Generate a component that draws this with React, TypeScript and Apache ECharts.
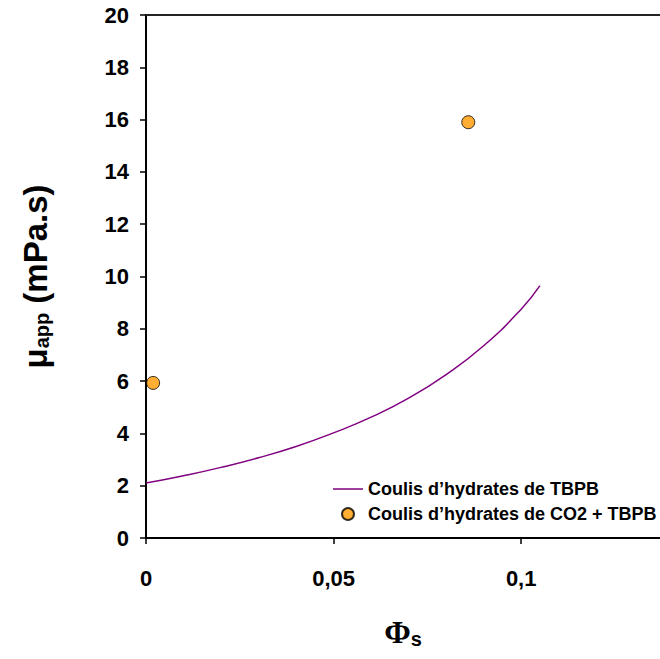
import React, { useEffect, useRef } from "react";
import * as echarts from "echarts";

const seriesNames = ["Coulis d’hydrates de TBPB", "Coulis d’hydrates de CO2 + TBPB"];
const lineX = [0, 0.01, 0.02, 0.03, 0.04, 0.05, 0.06, 0.07, 0.08, 0.09, 0.1, 0.105];
const lineY = [2.1, 2.38, 2.7, 3.07, 3.5, 4.02, 4.62, 5.35, 6.25, 7.35, 8.75, 9.65];
const pointsX = [0.0019, 0.0859];
const pointsY = [5.93, 15.9];
const xMin = 0;
const xMax = 0.137;
const xStep = 0.05;
const yMin = 0;
const yMax = 20;
const yStep = 2;

const FONT = "'Liberation Sans', Arial, sans-serif";
const SERIF = "'Liberation Serif', 'Times New Roman', serif";

export default function App() {
  const ref = useRef<HTMLDivElement>(null);
  useEffect(() => {
    document.body.style.margin = "0";
    if (!ref.current) return;
    const chart = echarts.init(ref.current, undefined, { renderer: "svg" });
    chart.setOption({
      animation: false,
      backgroundColor: "#fff",
      grid: { left: 146, top: 15, right: 0, bottom: 121, containLabel: false, outerBoundsMode: "none" },
      legend: {
        orient: "vertical",
        left: 328,
        top: 475,
        itemWidth: 30,
        itemHeight: 12,
        itemGap: 7,
        textStyle: { fontFamily: FONT, fontWeight: "bold", fontSize: 18, color: "#000" },
        data: [
          { name: seriesNames[0], icon: "path://M0,0H20V1H0Z" },
          { name: seriesNames[1] },
        ],
      },
      xAxis: [
        {
          type: "value",
          min: xMin,
          max: xMax,
          interval: xStep,
          position: "bottom",
          axisLine: { show: true, lineStyle: { color: "#000", width: 2 } },
          axisTick: { show: true, length: 6, lineStyle: { color: "#000", width: 1.5 } },
          splitLine: { show: false },
          axisLabel: {
            margin: 29,
            showMaxLabel: false,
            fontFamily: FONT,
            fontWeight: "bold",
            fontSize: 22,
            color: "#000",
            formatter: (v: number) => String(v).replace(".", ","),
          },
          name: "{phi|Φ}{sub|s}",
          nameLocation: "middle",
          nameGap: 76,
          nameTextStyle: {
            rich: {
              phi: { fontFamily: SERIF, fontWeight: "bold", fontSize: 32, color: "#000", lineHeight: 36 },
              sub: { fontFamily: FONT, fontWeight: "bold", fontSize: 20, color: "#000", padding: [14, 0, 0, 0], lineHeight: 36 },
            },
          },
        },
        {
          type: "value",
          min: xMin,
          max: xMax,
          position: "top",
          axisLine: { show: true, lineStyle: { color: "#222", width: 2 } },
          axisTick: { show: false },
          axisLabel: { show: false },
          splitLine: { show: false },
        },
      ],
      yAxis: {
        type: "value",
        min: yMin,
        max: yMax,
        interval: yStep,
        axisLine: { show: true, lineStyle: { color: "#000", width: 2 } },
        axisTick: { show: true, length: 6, lineStyle: { color: "#000", width: 1.5 } },
        splitLine: { show: false },
        axisLabel: { margin: 17, fontFamily: FONT, fontWeight: "bold", fontSize: 22, color: "#000" },
        name: "{mu|μ}{sub|app}{mu| (mPa.s)}",
        nameLocation: "middle",
        nameRotate: 90,
        nameGap: 92,
        nameTextStyle: {
          rich: {
            mu: { fontFamily: FONT, fontWeight: "bold", fontSize: 33, color: "#000", lineHeight: 38 },
            sub: { fontFamily: FONT, fontWeight: "bold", fontSize: 20, color: "#000", padding: [14, 0, 0, 0], lineHeight: 38 },
          },
        },
      },
      series: [
        {
          name: seriesNames[0],
          type: "line",
          xAxisIndex: 0,
          data: lineX.map((x, i) => [x, lineY[i]]),
          smooth: true,
          symbol: "none",
          lineStyle: { color: "#800080", width: 1.5 },
          itemStyle: { color: "#800080" },
        },
        {
          name: seriesNames[1],
          type: "scatter",
          xAxisIndex: 0,
          data: pointsX.map((x, i) => [x, pointsY[i]]),
          symbol: "circle",
          symbolSize: 13,
          itemStyle: { color: "#FF9900", borderColor: "#000", borderWidth: 1 },
        },
      ],
    });
    return () => chart.dispose();
  }, []);
  return <div ref={ref} style={{ width: 660, height: 659 }} />;
}
